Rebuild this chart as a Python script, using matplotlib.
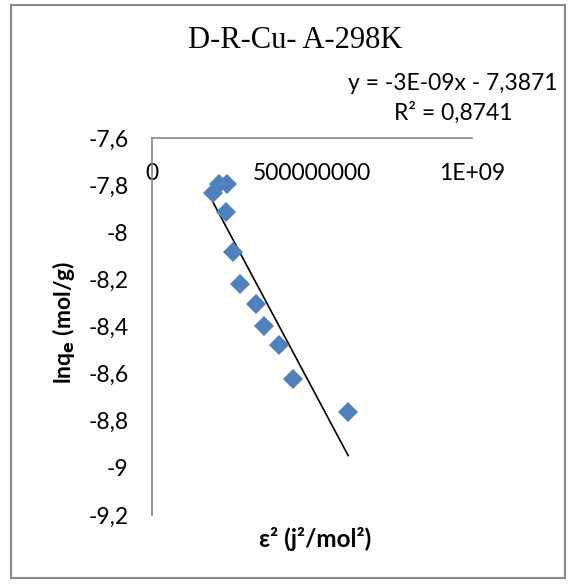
import numpy as np
import matplotlib
matplotlib.use("Agg")
import matplotlib.pyplot as plt
from matplotlib.patches import Rectangle

# Dubinin-Radushkevich data: epsilon^2 (J^2/mol^2) vs ln qe (mol/g)
eps_sq = [209e6, 235e6, 190e6, 230e6, 254e6, 275e6, 324e6, 349e6, 398e6, 440e6, 613e6]
ln_qe = [-7.796, -7.796, -7.835, -7.915, -8.083, -8.220, -8.305, -8.398, -8.479, -8.623, -8.762]

x_ticks = [0, 5e8, 1e9]
x_tick_labels = ["0", "500000000", "1E+09"]
y_ticks = [-7.6, -7.8, -8.0, -8.2, -8.4, -8.6, -8.8, -9.0, -9.2]
y_tick_labels = ["-7,6", "-7,8", "-8", "-8,2", "-8,4", "-8,6", "-8,8", "-9", "-9,2"]

title = "D-R-Cu- A-298K"
equation = "y = -3E-09x - 7,3871"
r_squared = "R² = 0,8741"

W, H = 569, 585
SANS = ["Lato", "DejaVu Sans"]
plt.rcParams["font.family"] = SANS
FS = 16.5

fig = plt.figure(figsize=(W / 100, H / 100), dpi=100)
fig.patch.set_facecolor("white")

# chart frame
fig.add_artist(Rectangle((11 / W, (H - 578) / H), (565 - 11) / W, (578 - 5) / H,
                         transform=fig.transFigure, fill=False,
                         edgecolor="#8a8a8a", linewidth=1.5))

ax = fig.add_axes([152 / W, (H - 515) / H, 320 / W, 377 / H])
ax.set_xlim(0, 1e9)
ax.set_ylim(-9.2, -7.6)

for side in ("bottom", "right"):
    ax.spines[side].set_visible(False)
for side in ("left", "top"):
    ax.spines[side].set_color("#868686")
    ax.spines[side].set_linewidth(1.2)

ax.set_yticks(y_ticks)
ax.set_yticklabels(y_tick_labels)
ax.tick_params(axis="y", length=0, pad=17, labelsize=FS, labelcolor="black")

ax.xaxis.set_ticks_position("top")
ax.set_xticks(x_ticks)
ax.set_xticklabels(x_tick_labels)
ax.tick_params(axis="x", length=0, top=False, bottom=False,
               labeltop=True, labelbottom=False, pad=-33, labelsize=FS,
               labelcolor="black")

# data points
ax.plot(eps_sq, ln_qe, linestyle="none", marker="D", markersize=10.5,
        color="#4F81BD", markeredgewidth=0, zorder=3)

# linear trendline
slope, intercept = np.polyfit(eps_sq, ln_qe, 1)
xs = np.array([min(eps_sq), max(eps_sq)])
ax.plot(xs, slope * xs + intercept, color="black", linewidth=1.2, zorder=2)

# titles and annotations
fig.text(295 / W, 1 - 40 / H, title, ha="center", va="center",
         family=["Liberation Serif"], fontsize=22)
fig.text(453 / W, 1 - 84 / H, equation, ha="center", va="center", fontsize=FS)
fig.text(453 / W, 1 - 113 / H, r_squared, ha="center", va="center", fontsize=FS)

fig.text(315 / W, 1 - 539 / H, "ε² (j²/mol²)", ha="center", va="center",
         fontsize=FS + 1, fontweight="bold")
fig.text(64 / W, 1 - 322 / H, r"lnq$_\mathbf{e}$ (mol/g)", ha="center", va="center",
         rotation=90, fontsize=FS, fontweight="bold")

fig.savefig("out.png", dpi=100)
